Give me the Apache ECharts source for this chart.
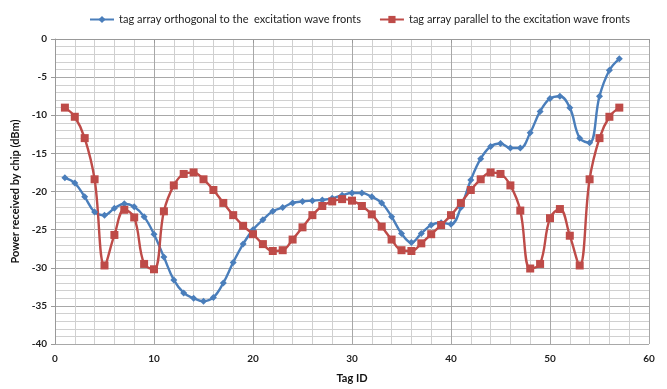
<!DOCTYPE html>
<html>
<head>
<meta charset="utf-8">
<script src="https://cdn.jsdelivr.net/npm/echarts@6/dist/echarts.min.js"></script>
<style>html,body{margin:0;padding:0;background:#fff}#c{width:667px;height:389px}</style>
</head>
<body>
<div id="c"></div>
<script>
var tagIds = [1,2,3,4,5,6,7,8,9,10,11,12,13,14,15,16,17,18,19,20,21,22,23,24,25,26,27,28,29,30,31,32,33,34,35,36,37,38,39,40,41,42,43,44,45,46,47,48,49,50,51,52,53,54,55,56,57];
var orthogonal = [-18.2,-18.9,-20.7,-22.7,-23.1,-22.2,-21.6,-22.0,-23.3,-25.6,-28.6,-31.6,-33.3,-34.0,-34.4,-33.9,-32.0,-29.3,-26.9,-25.0,-23.7,-22.6,-22.1,-21.5,-21.3,-21.2,-21.1,-20.9,-20.5,-20.2,-20.2,-20.7,-21.5,-23.3,-25.5,-26.7,-25.5,-24.4,-24.1,-24.3,-22.1,-18.5,-15.7,-14.1,-13.7,-14.3,-14.3,-12.3,-9.5,-7.8,-7.5,-9.0,-13.0,-13.6,-7.5,-4.1,-2.6];
var parallel = [-9.0,-10.2,-13.0,-18.4,-29.7,-25.7,-22.4,-23.4,-29.5,-30.2,-22.6,-19.2,-17.7,-17.5,-18.4,-19.8,-21.5,-23.1,-24.5,-25.6,-26.9,-27.8,-27.7,-26.3,-24.7,-23.1,-21.9,-21.3,-21.0,-21.2,-21.9,-23.0,-24.6,-26.3,-27.7,-27.8,-26.8,-25.6,-24.4,-23.1,-21.5,-19.8,-18.4,-17.5,-17.7,-19.2,-22.5,-30.1,-29.5,-23.5,-22.3,-25.8,-29.7,-18.4,-13.0,-10.2,-9.0];
var seriesNames = ['tag array orthogonal to the  excitation wave fronts','tag array parallel to the excitation wave fronts'];

function pairs(vals){ return tagIds.map(function(t,i){ return [t, vals[i]]; }); }

var font = 'Lato, "Open Sans", sans-serif';
var chart = echarts.init(document.getElementById('c'), null, {renderer:'canvas'});
chart.setOption({
  animation:false,
  backgroundColor:'#fff',
  legend:{
    top:9, left:84, itemGap:18, itemWidth:24, itemHeight:9,
    textStyle:{fontFamily:font, fontSize:11, color:'#222'},
    data:seriesNames
  },
  grid:{left:55, right:18, top:39, bottom:43},
  xAxis:{
    type:'value', min:0, max:60, interval:10,
    name:'Tag ID', nameLocation:'middle', nameGap:29,
    nameTextStyle:{fontFamily:font, fontSize:11, fontWeight:'bold', color:'#111'},
    axisLine:{lineStyle:{color:'#999'}},
    axisTick:{show:true, length:4, lineStyle:{color:'#999'}},
    axisLabel:{fontFamily:font, fontSize:10, fontWeight:'bold', color:'#222', margin:10},
    splitLine:{show:true, lineStyle:{color:'#a8a8a8'}},
    minorTick:{show:false, splitNumber:5},
    minorSplitLine:{show:true, lineStyle:{color:'#d0d0d0'}}
  },
  yAxis:{
    type:'value', min:-40, max:0, interval:5,
    name:'Power received by chip (dBm)', nameLocation:'middle', nameGap:32,
    nameTextStyle:{fontFamily:font, fontSize:11, fontWeight:'bold', color:'#111'},
    axisLine:{show:true, lineStyle:{color:'#999'}},
    axisTick:{show:true, length:4, lineStyle:{color:'#999'}},
    axisLabel:{fontFamily:font, fontSize:10, fontWeight:'bold', color:'#222', margin:8},
    splitLine:{show:true, lineStyle:{color:'#a8a8a8'}},
    minorTick:{show:false, splitNumber:5},
    minorSplitLine:{show:true, lineStyle:{color:'#d0d0d0'}}
  },
  series:[
    {name:seriesNames[0], type:'line', data:pairs(orthogonal), smooth:0.4,
     symbol:'diamond', symbolSize:7, color:'#4a7ebb',
     lineStyle:{width:2.4, color:'#4a7ebb'}, itemStyle:{color:'#4a7ebb'}},
    {name:seriesNames[1], type:'line', data:pairs(parallel), smooth:0.4,
     symbol:'rect', symbolSize:8, color:'#be4b48',
     lineStyle:{width:2.4, color:'#be4b48'}, itemStyle:{color:'#be4b48'}}
  ]
});
</script>
</body>
</html>
